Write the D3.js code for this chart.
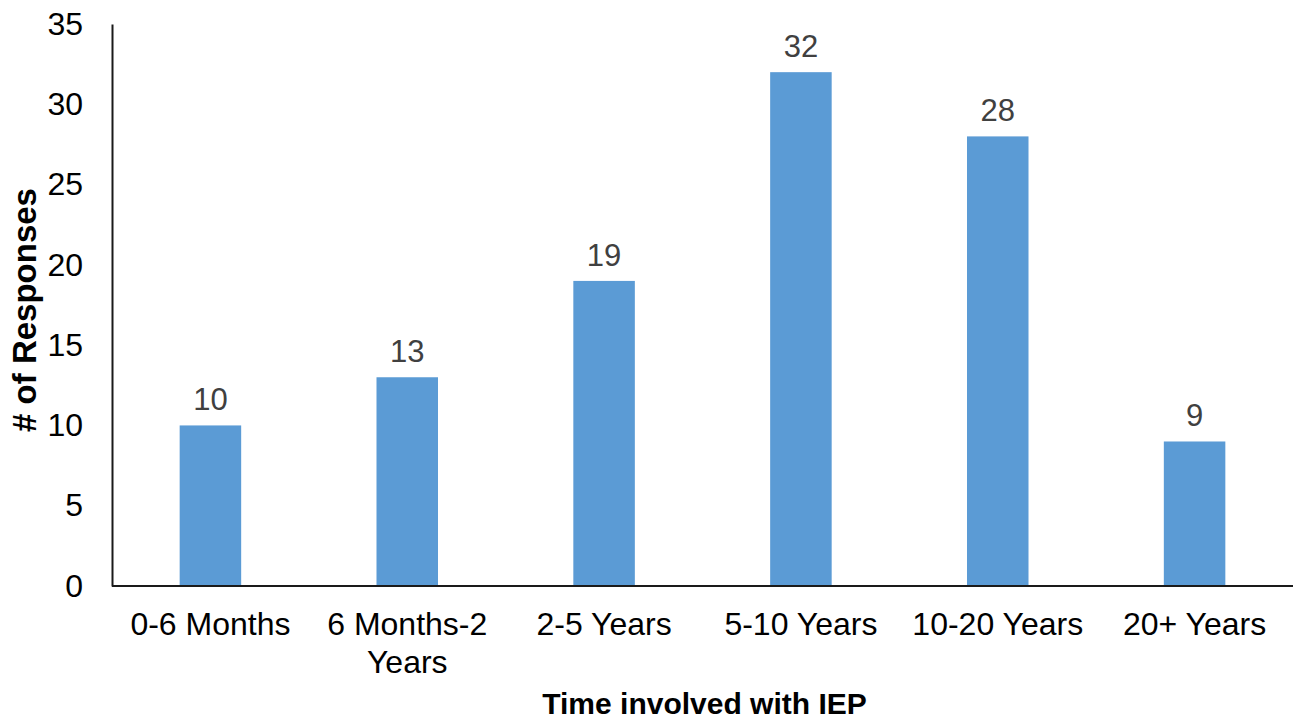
<!DOCTYPE html>
<html>
<head>
<meta charset="utf-8">
<script src="https://cdn.jsdelivr.net/npm/d3@7"></script>
<style>
  body { margin: 0; background: #fff; }
  text { font-family: "Liberation Sans", Arial, sans-serif; }
</style>
</head>
<body>
<script>
var categories = ["0-6 Months", "6 Months-2 Years", "2-5 Years", "5-10 Years", "10-20 Years", "20+ Years"];
var responses = [10, 13, 19, 32, 28, 9];
var yTicks = [0, 5, 10, 15, 20, 25, 30, 35];

var width = 1298,
    height = 719,
    plotLeft = 112,
    plotRight = 1293,
    plotTop = 24,
    plotBottom = 586;

var svg = d3.select("body").append("svg")
    .attr("width", width)
    .attr("height", height);

var x = d3.scaleBand()
    .domain(categories)
    .range([plotLeft, plotRight])
    .paddingInner(0.6875)
    .paddingOuter(0.34375);

var y = d3.scaleLinear()
    .domain([0, 35])
    .range([plotBottom, plotTop]);

// bars
svg.selectAll("rect.bar")
    .data(responses)
    .enter().append("rect")
    .attr("class", "bar")
    .attr("x", function(d, i) { return x(categories[i]); })
    .attr("y", function(d) { return y(d); })
    .attr("width", x.bandwidth())
    .attr("height", function(d) { return y(0) - y(d); })
    .attr("fill", "#5b9bd5");

// value labels
svg.selectAll("text.value")
    .data(responses)
    .enter().append("text")
    .attr("class", "value")
    .attr("x", function(d, i) { return x(categories[i]) + x.bandwidth() / 2; })
    .attr("y", function(d) { return y(d) - 15; })
    .attr("text-anchor", "middle")
    .attr("font-size", 31)
    .attr("fill", "#404040")
    .text(function(d) { return d; });

// y axis
var yAxis = svg.append("g")
    .attr("transform", "translate(" + plotLeft + ",0)")
    .call(d3.axisLeft(y).tickValues(yTicks).tickSize(0).tickPadding(29));
yAxis.select(".domain").attr("stroke", "#1a1a1a").attr("stroke-width", 2);
yAxis.selectAll("text")
    .attr("font-size", 32)
    .attr("fill", "#000")
    .style("font-family", "Liberation Sans, Arial, sans-serif");

// x axis
var xAxis = svg.append("g")
    .attr("transform", "translate(0," + plotBottom + ")")
    .call(d3.axisBottom(x).tickSize(0).tickPadding(0));
xAxis.select(".domain")
    .attr("stroke", "#1a1a1a")
    .attr("stroke-width", 2)
    .attr("d", "M" + plotLeft + ",0H" + plotRight);
xAxis.selectAll("text")
    .attr("font-size", 32)
    .attr("fill", "#000")
    .style("font-family", "Liberation Sans, Arial, sans-serif")
    .attr("dy", null)
    .attr("y", 49)
    .call(wrap, x.step());

function wrap(sel, w) {
  sel.each(function() {
    var text = d3.select(this),
        words = text.text().split(/\s+/),
        line = [],
        lineNo = 0,
        tspan = text.text(null).append("tspan").attr("x", 0).attr("y", 49);
    words.forEach(function(word) {
      line.push(word);
      tspan.text(line.join(" "));
      if (tspan.node().getComputedTextLength() > w && line.length > 1) {
        line.pop();
        tspan.text(line.join(" "));
        line = [word];
        lineNo++;
        tspan = text.append("tspan").attr("x", 0).attr("y", 49 + lineNo * 38).text(word);
      }
    });
  });
}

// axis titles
svg.append("text")
    .attr("x", (plotLeft + plotRight) / 2 + 2)
    .attr("y", 714)
    .attr("text-anchor", "middle")
    .attr("font-size", 30)
    .attr("font-weight", "bold")
    .text("Time involved with IEP");

svg.append("text")
    .attr("transform", "translate(36," + 310 + ") rotate(-90)")
    .attr("text-anchor", "middle")
    .attr("font-size", 33)
    .attr("font-weight", "bold")
    .text("# of Responses");
</script>
</body>
</html>
